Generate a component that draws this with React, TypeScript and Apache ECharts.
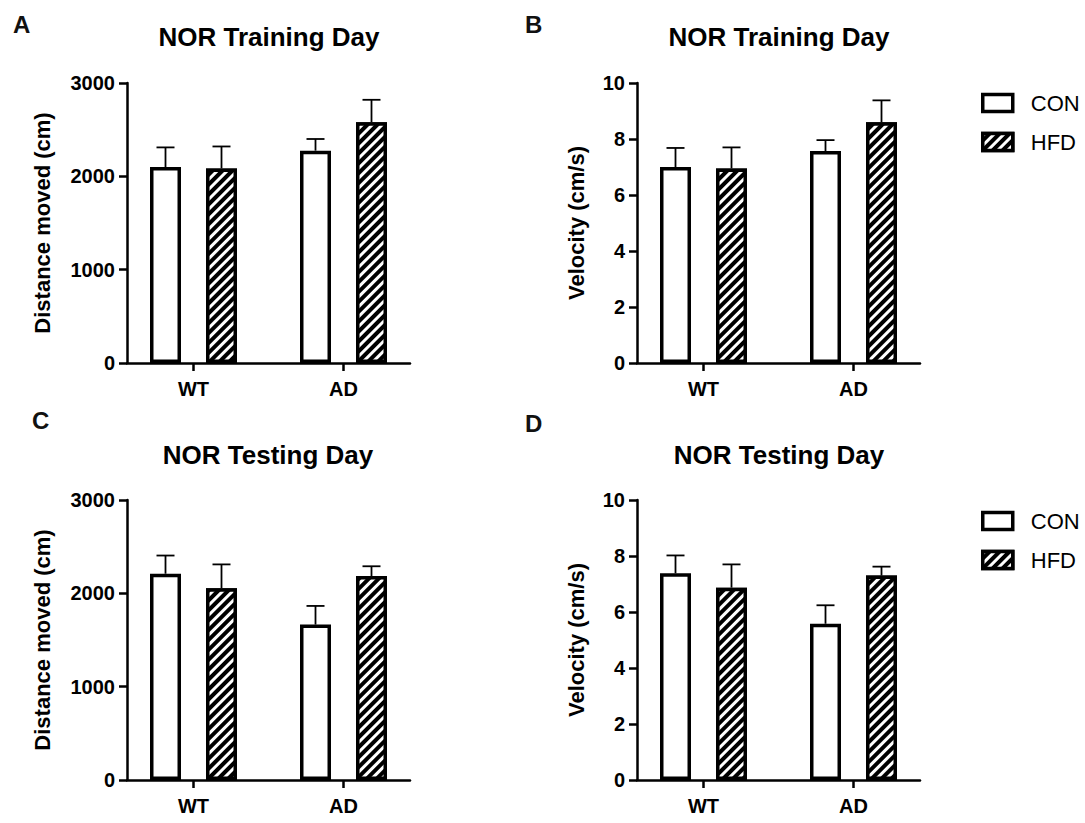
import React, { useEffect, useRef } from 'react';
import * as echarts from 'echarts';

// ---------------- data ----------------
const categories = ['WT', 'AD'];
const groupNames = ['CON', 'HFD'];

// A: NOR Training Day - Distance moved (cm)
const trainDistCON = [2100, 2275];
const trainDistCONErr = [210, 125];
const trainDistHFD = [2085, 2580];
const trainDistHFDErr = [235, 240];

// B: NOR Training Day - Velocity (cm/s)
const trainVelCON = [7.0, 7.57];
const trainVelCONErr = [0.68, 0.39];
const trainVelHFD = [6.95, 8.6];
const trainVelHFDErr = [0.75, 0.78];

// C: NOR Testing Day - Distance moved (cm)
const testDistCON = [2210, 1665];
const testDistCONErr = [195, 200];
const testDistHFD = [2055, 2185];
const testDistHFDErr = [255, 105];

// D: NOR Testing Day - Velocity (cm/s)
const testVelCON = [7.38, 5.58];
const testVelCONErr = [0.64, 0.66];
const testVelHFD = [6.87, 7.3];
const testVelHFDErr = [0.83, 0.32];

const distScale = { min: 0, max: 3000, interval: 1000 };
const velScale = { min: 0, max: 10, interval: 2 };

// ---------------- layout ----------------
const FONT = '"Liberation Sans", Arial, Helvetica, sans-serif';
const AXIS_W = 283;
const AXIS_H = 280;
const BAR_GRID_W = 300;
const BAR_W = 31;
const BAR_GAP_PX = 25;
const BAR_OFFSET = (BAR_W + BAR_GAP_PX) / 2;

const panels = [
  { letter: 'A', letterX: 13, letterY: 24, title: 'NOR Training Day', titleX: 269, titleY: 37, yName: 'Distance moved (cm)', nameGap: 74, scale: distScale, con: trainDistCON, conErr: trainDistCONErr, hfd: trainDistHFD, hfdErr: trainDistHFDErr, left: 127, top: 83 },
  { letter: 'B', letterX: 525, letterY: 24, title: 'NOR Training Day', titleX: 779, titleY: 37, yName: 'Velocity (cm/s)', nameGap: 50, scale: velScale, con: trainVelCON, conErr: trainVelCONErr, hfd: trainVelHFD, hfdErr: trainVelHFDErr, left: 637, top: 83 },
  { letter: 'C', letterX: 32, letterY: 420, title: 'NOR Testing Day', titleX: 268, titleY: 455, yName: 'Distance moved (cm)', nameGap: 74, scale: distScale, con: testDistCON, conErr: testDistCONErr, hfd: testDistHFD, hfdErr: testDistHFDErr, left: 127, top: 500 },
  { letter: 'D', letterX: 525, letterY: 423, title: 'NOR Testing Day', titleX: 779, titleY: 455, yName: 'Velocity (cm/s)', nameGap: 50, scale: velScale, con: testVelCON, conErr: testVelCONErr, hfd: testVelHFD, hfdErr: testVelHFDErr, left: 637, top: 500 },
];

const legendTops = [87, 505];

const hatch = {
  symbol: 'rect',
  symbolSize: 1,
  color: '#ffffff',
  dashArrayX: [1, 0],
  dashArrayY: [3, 4],
  rotation: -Math.PI / 4,
};

const axisLineStyle = { color: '#000', width: 2.5 };

function makeErrRender(dx: number) {
  return (params: any, api: any) => {
    const c = api.value(0);
    const v = api.value(1);
    const e = api.value(2);
    const p0 = api.coord([c, v]);
    const p1 = api.coord([c, v + e]);
    const x = p0[0] + dx;
    return {
      type: 'group',
      children: [
        { type: 'line', shape: { x1: x, y1: p0[1], x2: x, y2: p1[1] }, style: { stroke: '#000', lineWidth: 1.8 } },
        { type: 'line', shape: { x1: x - 9, y1: p1[1], x2: x + 9, y2: p1[1] }, style: { stroke: '#000', lineWidth: 1.8 } },
      ],
    };
  };
}

function buildOption() {
  const grid: any[] = [];
  const xAxis: any[] = [];
  const yAxis: any[] = [];
  const series: any[] = [];
  const graphic: any[] = [];

  panels.forEach((p) => {
    const gBar = grid.length;
    grid.push({ left: p.left - (BAR_GRID_W - AXIS_W) / 2, top: p.top, width: BAR_GRID_W, height: AXIS_H, outerBoundsMode: 'none', containLabel: false });
    const gAx = grid.length;
    grid.push({ left: p.left, top: p.top, width: AXIS_W, height: AXIS_H, outerBoundsMode: 'none', containLabel: false });

    const xb = xAxis.length;
    xAxis.push({
      gridIndex: gBar,
      type: 'category',
      data: categories,
      axisLine: { show: false },
      axisTick: { show: true, alignWithLabel: true, length: 8, lineStyle: axisLineStyle },
      axisLabel: { color: '#000', fontSize: 20, fontWeight: 'bold', fontFamily: FONT, margin: 16 },
      splitLine: { show: false },
    });
    xAxis.push({
      gridIndex: gAx,
      type: 'value',
      min: 0,
      max: 1,
      axisLine: { show: true, onZero: false, lineStyle: axisLineStyle },
      axisTick: { show: false },
      axisLabel: { show: false },
      splitLine: { show: false },
    });

    const yb = yAxis.length;
    yAxis.push({ gridIndex: gBar, type: 'value', min: p.scale.min, max: p.scale.max, show: false, splitLine: { show: false } });
    yAxis.push({
      gridIndex: gAx,
      type: 'value',
      min: p.scale.min,
      max: p.scale.max,
      interval: p.scale.interval,
      axisLine: { show: true, lineStyle: axisLineStyle },
      axisTick: { show: true, length: 8, lineStyle: axisLineStyle },
      axisLabel: { color: '#000', fontSize: 20, fontWeight: 'bold', fontFamily: FONT, margin: 12, formatter: (v: number) => String(v) },
      splitLine: { show: false },
      name: p.yName,
      nameLocation: 'middle',
      nameGap: p.nameGap,
      nameMoveOverlap: false,
      nameTextStyle: { color: '#000', fontSize: 22, fontWeight: 'bold', fontFamily: FONT },
    });

    series.push({
      type: 'bar',
      name: groupNames[0],
      xAxisIndex: xb,
      yAxisIndex: yb,
      data: p.con,
      barWidth: BAR_W,
      barGap: (BAR_GAP_PX / BAR_W) * 100 + '%',
      itemStyle: { color: '#ffffff', borderColor: '#000', borderWidth: 3.5 },
      z: 3,
      silent: true,
    });
    series.push({
      type: 'bar',
      name: groupNames[1],
      xAxisIndex: xb,
      yAxisIndex: yb,
      data: p.hfd,
      barWidth: BAR_W,
      barGap: (BAR_GAP_PX / BAR_W) * 100 + '%',
      itemStyle: { color: '#000000', borderColor: '#000', borderWidth: 3.5, decal: hatch },
      z: 3,
      silent: true,
    });
    series.push({
      type: 'custom',
      name: 'CON SEM',
      xAxisIndex: xb,
      yAxisIndex: yb,
      encode: { x: 0, y: 1 },
      data: p.con.map((v, k) => [k, v, p.conErr[k]]),
      renderItem: makeErrRender(-BAR_OFFSET),
      z: 1,
      silent: true,
    });
    series.push({
      type: 'custom',
      name: 'HFD SEM',
      xAxisIndex: xb,
      yAxisIndex: yb,
      encode: { x: 0, y: 1 },
      data: p.hfd.map((v, k) => [k, v, p.hfdErr[k]]),
      renderItem: makeErrRender(BAR_OFFSET),
      z: 1,
      silent: true,
    });

    graphic.push({
      type: 'text',
      x: p.titleX,
      y: p.titleY,
      style: { text: p.title, fill: '#000', font: `bold 26px ${FONT}`, textAlign: 'center', textVerticalAlign: 'middle' },
      silent: true,
    });
    graphic.push({
      type: 'text',
      x: p.letterX,
      y: p.letterY,
      style: { text: p.letter, fill: '#111', font: `bold 24px ${FONT}`, textAlign: 'left', textVerticalAlign: 'middle' },
      silent: true,
    });
  });

  const legend = legendTops.map((top) => ({
    data: groupNames,
    orient: 'vertical',
    left: 976,
    top,
    icon: 'rect',
    itemWidth: 30,
    itemHeight: 17,
    itemGap: 17,
    selectedMode: false,
    itemStyle: { borderColor: '#000', borderWidth: 3.5 },
    textStyle: { color: '#000', fontSize: 22, fontFamily: FONT, padding: [0, 0, 0, 13] },
  }));

  return {
    animation: false,
    backgroundColor: '#ffffff',
    grid,
    xAxis,
    yAxis,
    series,
    legend,
    graphic,
  };
}

export default function App() {
  const ref = useRef<HTMLDivElement | null>(null);
  useEffect(() => {
    if (!ref.current) return;
    const chart = echarts.init(ref.current, null, { renderer: 'svg' });
    chart.setOption(buildOption() as any);
    return () => chart.dispose();
  }, []);
  return (
    <div
      ref={ref}
      style={{ position: 'fixed', left: 0, top: 0, width: 1085, height: 823, background: '#fff' }}
    />
  );
}
